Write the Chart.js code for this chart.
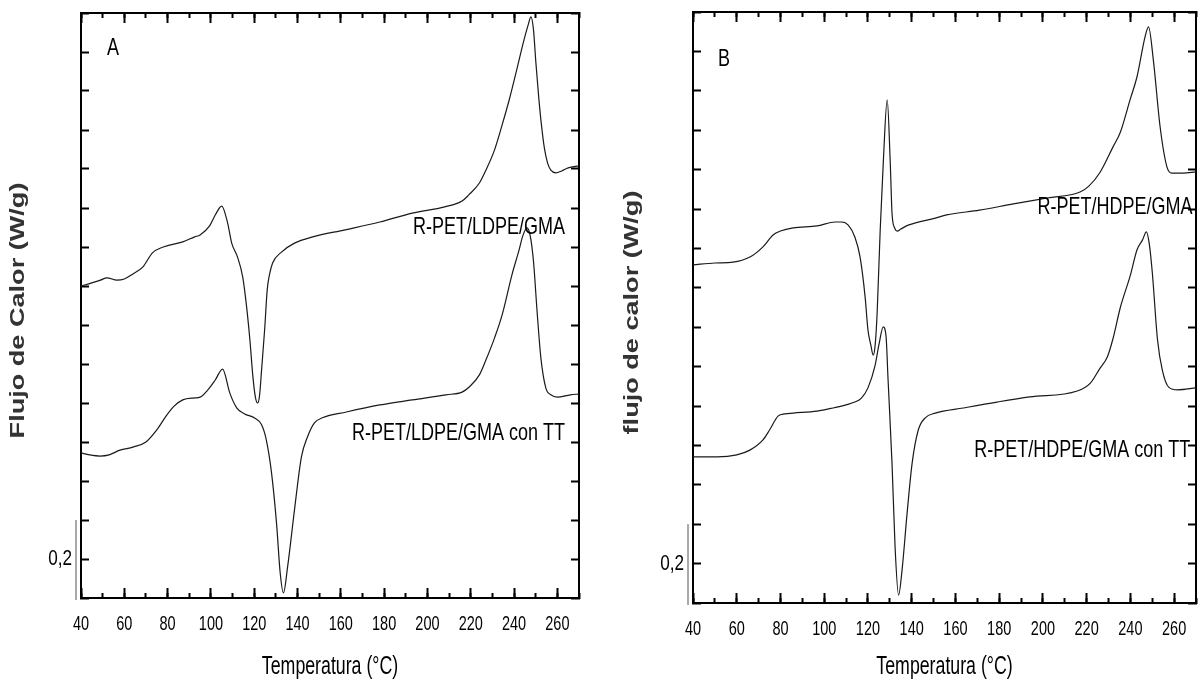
<!DOCTYPE html>
<html>
<head>
<meta charset="utf-8">
<title>DSC R-PET/PE/GMA</title>
<script src="https://cdn.jsdelivr.net/npm/chart.js@4"></script>
<style>
  body { margin: 0; background: #fff; }
  .panel { position: absolute; top: 0; width: 600px; height: 685px; }
  #panelA { left: 0; }
  #panelB { left: 601px; }
</style>
</head>
<body>
<div class="panel" id="panelA"><canvas id="chartA"></canvas></div>
<div class="panel" id="panelB"><canvas id="chartB"></canvas></div>
<script>
// DSC heating traces: temperature (°C) and heat flow (W/g, curves offset)
var tempLdpe = [40, 45, 49, 52, 56.6, 60, 64, 68.6, 73, 78, 87, 92.5, 95, 99.4, 102, 105, 107.7, 109.6, 112.3, 114.7,
  116.5, 118, 119.4, 120.6, 121.6, 122.5, 123.4, 124.8, 126, 127, 128.5, 132.6, 138.6, 147, 162, 178, 193, 208, 216, 219,
  224, 227, 231, 234.5, 238, 241, 244.6, 246.5, 247.8, 249, 250, 251.3, 252.4, 254, 255.5, 257, 259.3, 262, 265, 270];
var flowLdpe = [0.800, 0.808, 0.815, 0.821, 0.815, 0.818, 0.831, 0.849, 0.885, 0.900, 0.913, 0.926, 0.931, 0.954, 0.982, 1.005, 0.962, 0.910, 0.874, 0.823,
  0.746, 0.662, 0.567, 0.513, 0.500, 0.521, 0.585, 0.687, 0.790, 0.828, 0.859, 0.887, 0.910, 0.926, 0.944, 0.964, 0.987, 1.003, 1.018, 1.033,
  1.064, 1.097, 1.149, 1.213, 1.282, 1.349, 1.431, 1.469, 1.490, 1.456, 1.379, 1.290, 1.226, 1.154, 1.115, 1.097, 1.090, 1.095, 1.103, 1.108];

var tempLdpeTT = [40, 44, 48.8, 53, 58, 64, 70, 75, 79.6, 83, 87, 92.5, 95, 98.5, 102, 105.4, 108.7, 112, 115.6, 120,
  123.4, 125.6, 128, 130.3, 132, 133.5, 135.4, 138.6, 141.8, 144.6, 147.8, 151.5, 162.6, 178, 193, 208.6, 216, 219.3, 224, 227,
  231, 234.5, 239, 242.3, 244, 246, 247.5, 249, 250.6, 252.4, 254.7, 257, 260, 266, 270];
var flowLdpeTT = [0.372, 0.367, 0.364, 0.367, 0.379, 0.387, 0.400, 0.431, 0.469, 0.492, 0.508, 0.513, 0.515, 0.533, 0.559, 0.587, 0.526, 0.487, 0.472, 0.462,
  0.444, 0.405, 0.321, 0.192, 0.064, 0.013, 0.079, 0.226, 0.362, 0.413, 0.449, 0.462, 0.477, 0.495, 0.508, 0.521, 0.528, 0.541, 0.572, 0.610,
  0.667, 0.726, 0.828, 0.892, 0.928, 0.949, 0.928, 0.862, 0.738, 0.615, 0.538, 0.521, 0.515, 0.521, 0.523];

var tempHdpe = [40, 50, 58.3, 66, 72, 76.6, 80, 85.8, 96.7, 105, 108, 111, 114, 116.4, 118.7, 120, 121.3, 122.4, 123.3, 124.2,
  125.6, 127, 128.8, 130.2, 131, 132.2, 133.4, 135, 138.4, 150.8, 156, 171, 186.5, 202, 217, 221, 226, 232, 235.4, 240,
  243, 246.7, 248.3, 250.5, 253.6, 256.7, 259, 264, 270];
var flowHdpe = [0.858, 0.863, 0.865, 0.878, 0.904, 0.934, 0.944, 0.952, 0.957, 0.967, 0.967, 0.959, 0.929, 0.878, 0.777, 0.693, 0.655, 0.629, 0.655, 0.736,
  0.947, 1.117, 1.277, 1.117, 0.990, 0.952, 0.944, 0.949, 0.959, 0.977, 0.985, 0.997, 1.013, 1.028, 1.043, 1.058, 1.092, 1.157, 1.195, 1.280,
  1.335, 1.437, 1.462, 1.378, 1.208, 1.107, 1.091, 1.091, 1.094];

var tempHdpeTT = [40, 51, 60, 66, 72, 75, 79, 82, 85.8, 96.7, 104, 110, 114, 117, 120, 123.3, 125, 127, 128.3, 129.2,
  131, 132.4, 134, 135.6, 137.9, 140.2, 143, 146.2, 150.8, 163.6, 179, 194, 215.7, 221.7, 226, 229.5, 232, 235.4, 240, 243,
  245.5, 247.3, 248.7, 250, 252.4, 254.6, 257.5, 261.6, 270];
var flowHdpeTT = [0.371, 0.371, 0.376, 0.388, 0.414, 0.439, 0.475, 0.480, 0.482, 0.487, 0.495, 0.503, 0.510, 0.520, 0.546, 0.604, 0.655, 0.701, 0.675, 0.566,
  0.355, 0.142, 0.020, 0.084, 0.228, 0.355, 0.439, 0.470, 0.482, 0.495, 0.510, 0.523, 0.538, 0.558, 0.595, 0.625, 0.670, 0.750, 0.832, 0.896,
  0.921, 0.942, 0.909, 0.840, 0.668, 0.591, 0.548, 0.541, 0.546];

var tempRange = [40, 270];
var flowRange = [0, 1.5];
var scaleBar = 0.2;          // height of the W/g scale bar
var scaleBarLabel = '0,2';
var xTitle = 'Temperatura (°C)';

var face = "'Liberation Sans', Arial, sans-serif";

function points(t, v) {
  return t.map(function (x, i) { return { x: x, y: v[i] }; });
}

// text squeezed (k < 1) or stretched (k > 1) along its baseline
function drawText(ctx, text, x, y, o) {
  ctx.save();
  ctx.translate(x, y);
  if (o.rotate) ctx.rotate(o.rotate);
  ctx.scale(o.k, 1);
  ctx.font = (o.bold ? 'bold ' : '') + o.size + 'px ' + face;
  ctx.fillStyle = o.color || '#000';
  ctx.textAlign = o.align || 'center';
  ctx.textBaseline = 'middle';
  ctx.fillText(text, 0, 0);
  ctx.restore();
}

// tick labels, axis titles, scale bar and curve labels
var textMarks = {
  id: 'textMarks',
  afterDatasetsDraw: function (chart, args, opts) {
    var ctx = chart.ctx;
    var xs = chart.scales.x, ys = chart.scales.y;
    var area = chart.chartArea;

    xs.ticks.forEach(function (t) {
      drawText(ctx, String(t.value), xs.getPixelForValue(t.value), area.bottom + 26, { size: 21, k: 0.69 });
    });
    drawText(ctx, xTitle, (area.left + area.right) / 2, 667, { size: 25, k: 0.71 });

    drawText(ctx, opts.yTitle, opts.yTitleX, (area.top + area.bottom) / 2 + 5,
      { size: 21, k: 1.29, bold: true, rotate: -Math.PI / 2, color: '#333' });

    var barX = area.left - 5;
    ctx.save();
    ctx.strokeStyle = '#555';
    ctx.lineWidth = 1;
    ctx.beginPath();
    ctx.moveTo(barX, ys.getPixelForValue(0) + 2);
    ctx.lineTo(barX, ys.getPixelForValue(scaleBar));
    ctx.stroke();
    ctx.restore();
    drawText(ctx, scaleBarLabel, area.left - 9, ys.getPixelForValue(scaleBar / 2), { size: 22, k: 0.78, align: 'right' });

    opts.items.forEach(function (it) {
      drawText(ctx, it.text, xs.getPixelForValue(it.x), ys.getPixelForValue(it.y), { size: it.size, k: it.k, align: it.align });
    });
  }
};

function noPadding(s) {
  s.paddingLeft = 0; s.paddingRight = 0; s.paddingTop = 0; s.paddingBottom = 0;
}

// axis with inward tick marks only (labels come from textMarks)
function tickAxis(position, step, len, weight, size) {
  var horiz = position === 'top' || position === 'bottom';
  return {
    type: 'linear',
    position: position,
    weight: weight,
    min: horiz ? tempRange[0] : flowRange[0],
    max: horiz ? tempRange[1] : flowRange[1],
    border: { display: true, color: '#000', width: 2 },
    grid: { drawOnChartArea: false, tickLength: len, tickWidth: 2, tickColor: '#000' },
    ticks: { display: false, stepSize: step, includeBounds: false, autoSkip: false, maxTicksLimit: 100 },
    afterFit: function (s) {
      if (horiz) s.height = size || 0; else s.width = size || 0;
      noPadding(s);
    }
  };
}

function makeChart(id, series, p) {
  return new Chart(document.getElementById(id), {
    type: 'line',
    data: {
      datasets: series.map(function (s) {
        return {
          label: s.label,
          data: points(s.t, s.v),
          borderColor: '#1a1a1a',
          borderWidth: 1.2,
          pointRadius: 0,
          fill: false,
          cubicInterpolationMode: 'monotone'
        };
      })
    },
    options: {
      responsive: true,
      maintainAspectRatio: false,
      animation: false,
      layout: { padding: { top: p.top, right: p.right, left: 0, bottom: 0 } },
      scales: {
        x: tickAxis('bottom', 20, -10, 1, p.xHeight),
        xMinor: tickAxis('bottom', 10, -5, 0),
        xTop: tickAxis('top', 20, -10, 1),
        xTopMinor: tickAxis('top', 10, -5, 0),
        y: tickAxis('left', 0.1, -8, 0, p.yWidth),
        yRight: tickAxis('right', 0.1, -8, 0)
      },
      plugins: {
        legend: { display: false },
        tooltip: { enabled: false },
        textMarks: { items: p.labels, yTitle: p.yTitle, yTitleX: p.yTitleX }
      }
    },
    plugins: [textMarks]
  });
}

var chartA = makeChart('chartA', [
  { label: 'R-PET/LDPE/GMA', t: tempLdpe, v: flowLdpe },
  { label: 'R-PET/LDPE/GMA con TT', t: tempLdpeTT, v: flowLdpeTT }
], {
  top: 13, right: 21, yWidth: 81, xHeight: 87,
  yTitle: 'Flujo de Calor (W/g)', yTitleX: 18,
  labels: [
    { text: 'A', x: 52, y: 1.41, align: 'left', size: 24, k: 0.75 },
    { text: 'R-PET/LDPE/GMA', x: 263.5, y: 0.951, align: 'right', size: 24, k: 0.75 },
    { text: 'R-PET/LDPE/GMA con TT', x: 263.5, y: 0.423, align: 'right', size: 24, k: 0.75 }
  ]
});

var chartB = makeChart('chartB', [
  { label: 'R-PET/HDPE/GMA', t: tempHdpe, v: flowHdpe },
  { label: 'R-PET/HDPE/GMA con TT', t: tempHdpeTT, v: flowHdpeTT }
], {
  top: 12, right: 5, yWidth: 92, xHeight: 82,
  yTitle: 'flujo de calor (W/g)', yTitleX: 31,
  labels: [
    { text: 'B', x: 51.4, y: 1.381, align: 'left', size: 24, k: 0.75 },
    { text: 'R-PET/HDPE/GMA', x: 268.4, y: 1.005, align: 'right', size: 24, k: 0.75 },
    { text: 'R-PET/HDPE/GMA con TT', x: 168.6, y: 0.388, align: 'left', size: 24, k: 0.75 }
  ]
});
</script>
</body>
</html>
